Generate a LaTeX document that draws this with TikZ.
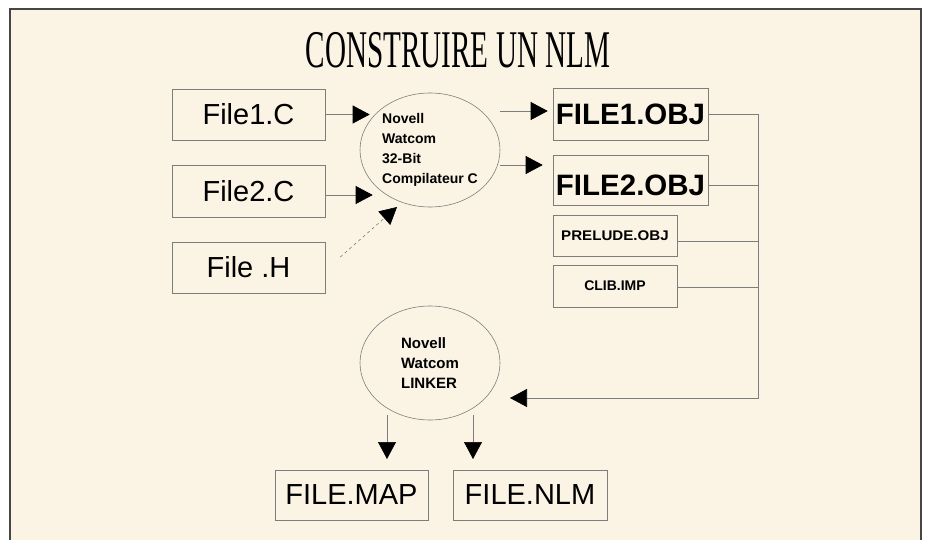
\documentclass[tikz,border=0pt]{standalone}
\usepackage{fontspec}
\setmainfont{Liberation Sans}
\newfontfamily\titlefont{Liberation Serif}
\usetikzlibrary{arrows.meta,shapes.geometric,calc}
\definecolor{paper}{RGB}{251,244,228}
\definecolor{edge}{RGB}{125,125,125}
\definecolor{frameclr}{RGB}{70,70,70}
\begin{document}
\begin{tikzpicture}[x=1pt,y=-1pt,
  box/.style={draw=edge, line width=0.6pt, inner sep=0pt},
  bigtext/.style={font=\fontsize{29}{29}\selectfont},
  objtext/.style={font=\bfseries\fontsize{29.5}{29.5}\selectfont},
  smalltext/.style={font=\bfseries\fontsize{14}{14}\selectfont},
  ell/.style={ellipse, draw=edge, line width=0.6pt, inner sep=0pt,
    minimum width=140pt, minimum height=114pt, align=left},
  wire/.style={draw=edge, line width=0.6pt},
  con/.style={wire, -{Triangle[length=17pt,width=18pt,color=black]}}]
\useasboundingbox (0,0) rectangle (928,540);
\clip (0,0) rectangle (928,540);
\draw[frameclr, line width=1.6pt, fill=paper] (10,9) rectangle (921,560);

\node (title) at (458,50.5)
  {\titlefont\fontsize{53}{53}\selectfont\scalebox{0.55}[1]{CONSTRUIRE UN NLM}};

\node[box, bigtext, minimum width=153pt, minimum height=51pt] (f1) at (248.5,114.5) {File1.C};
\node[box, bigtext, minimum width=153pt, minimum height=52pt] (f2) at (248.5,191) {File2.C};
\node[box, bigtext, minimum width=153pt, minimum height=51pt] (fh) at (248.5,267.5) {File .H};

\node[ell, font=\bfseries\fontsize{14}{20}\selectfont] (comp) at (430,150)
  {Novell\\Watcom\\32-Bit\\Compilateur C};

\node[box, objtext, minimum width=155pt, minimum height=52pt] (o1) at (630.5,114) {FILE1.OBJ};
\node[box, objtext, minimum width=155pt, minimum height=50pt, text height=32pt, text depth=0pt] (o2) at (630.5,180) {FILE2.OBJ};
\node[box, smalltext, minimum width=124pt, minimum height=41pt] (pr) at (615,235.5) {\scalebox{1.08}[1]{PRELUDE.OBJ}};
\node[box, smalltext, minimum width=124pt, minimum height=42pt] (cl) at (615,286) {CLIB.IMP};

\node[ell, font=\bfseries\fontsize{15}{20}\selectfont] (link) at (430,363)
  {Novell\\Watcom\\LINKER};

\node[box, bigtext, minimum width=153pt, minimum height=50pt] (map) at (351.5,495) {FILE.MAP};
\node[box, bigtext, minimum width=154pt, minimum height=50pt] (nlm) at (530,495) {FILE.NLM};

\coordinate (busc) at (758,398);
\coordinate (linkin) at ($(link.center)+(80,35)$);

% inputs to compiler
\draw[con] (f1.east) -- ($(f1.east -| comp.west)+(10,0)$);
\draw[con] ($(f2.east)+(0,4)$) -- ($(f2.east -| comp.west)+(13,4)$);
\draw[con, dashed] ($(fh.east)+(15,-10.5)$) -- ($(comp.center)+(-33,57)$);

% compiler outputs
\draw[con] ($(comp.east |- o1.west)+(0,-3)$) -- ($(o1.west)+(-5,-3)$);
\draw[con] ($(comp.east |- o2.west)+(0,-15)$) -- ($(o2.west)+(-10,-15)$);

% bus to linker
\draw[con] (o1.east) -| (busc) -- (linkin);
\draw[wire] ($(o2.east)+(0,5)$) -- ($(o2.east -| busc)+(0,5)$);
\draw[wire] ($(pr.east)+(0,5.5)$) -- ($(pr.east -| busc)+(0,5.5)$);
\draw[wire] ($(cl.east)+(0,1)$) -- ($(cl.east -| busc)+(0,1)$);

% linker outputs
\draw[con] ($(link.center)+(-43,52)$) -- ($(link.center)+(-43,96)$);
\draw[con] ($(link.center)+(43,52)$) -- ($(link.center)+(43,96)$);
\end{tikzpicture}
\end{document}
